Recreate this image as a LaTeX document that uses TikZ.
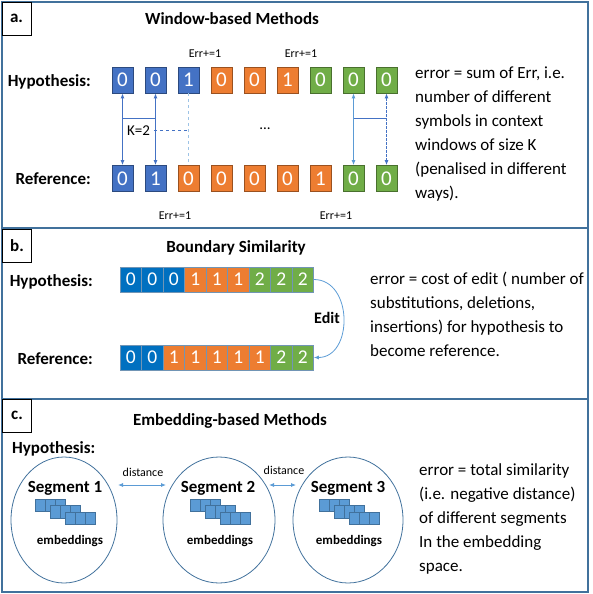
\documentclass[tikz,border=0pt]{standalone}
\usepackage{fontspec}
\setmainfont{Carlito}
\usetikzlibrary{arrows.meta,shapes.geometric,calc}
\definecolor{frameblue}{HTML}{41719C}
\definecolor{cblue}{HTML}{4472C4}
\definecolor{cblueb}{HTML}{0070C0}
\definecolor{corange}{HTML}{ED7D31}
\definecolor{cgreen}{HTML}{70AD47}
\definecolor{lblue}{HTML}{5B9BD5}
\definecolor{dashblue}{HTML}{9DC3E6}
\begin{document}
\begin{tikzpicture}[x=1pt,y=-1pt,
  panel/.style={draw=frameblue, line width=1.3pt},
  tag/.style={draw=black, fill=white, line width=0.8pt, minimum width=29pt, minimum height=33pt, inner sep=0pt, font=\fontsize{17}{20}\selectfont\bfseries},
  title/.style={font=\fontsize{17}{20}\selectfont\bfseries, inner sep=0pt, anchor=base},
  rowlabel/.style={font=\fontsize{17}{20}\selectfont\bfseries, inner sep=0pt, anchor=base east},
  cell/.style={draw=#1!65!black, fill=#1, text=white, line width=0.7pt, minimum width=21pt, minimum height=26pt, inner sep=0pt, font=\fontsize{21}{23}\selectfont},
  bcell/.style={draw=frameblue!75, fill=#1, text=white, line width=0.6pt, minimum width=21.5pt, minimum height=25pt, inner sep=0pt, font=\fontsize{19.5}{21}\selectfont},
  errlbl/.style={font=\fontsize{12}{14}\selectfont, inner sep=0pt, anchor=base},
  dart/.style={{Latex[length=5pt,width=4pt]}-{Latex[length=5pt,width=4pt]}, draw=cblue, line width=1pt},
  desc/.style={font=\fontsize{17}{24}\selectfont, align=left, inner sep=0pt, anchor=west},
  seg/.style={ellipse, draw=frameblue, line width=0.8pt, minimum width=#1, minimum height=126pt, inner sep=0pt},
  segtxt/.style={font=\fontsize{17}{20}\selectfont\bfseries, inner sep=0pt, anchor=base},
  embtxt/.style={font=\fontsize{13}{15}\selectfont\bfseries, inner sep=0pt, anchor=base},
  sq/.style={fill=lblue, draw=frameblue, line width=0.6pt},
  distlbl/.style={font=\fontsize{12}{14}\selectfont, inner sep=0pt, anchor=base},
  larr/.style={{Latex[length=5pt,width=4pt]}-{Latex[length=5pt,width=4pt]}, draw=lblue, line width=0.8pt}
]
\useasboundingbox (0,0) rectangle (592,594);
% panel frames
\draw[panel] (2,2) rectangle (588,228);
\draw[panel] (2,228) rectangle (588,399);
\draw[panel] (2,399) rectangle (588,592);
\node[tag] (tagA) at (16.5,18.5) {a.};
\node[tag] (tagB) at (17,245.5) {b.};
\node[tag] (tagC) at (17,415.5) {c.};
\node[title] (titA) at (232,25) {Window-based Methods};
\node[title] (titB) at (236,252) {Boundary Similarity};
\node[title] (titC) at (230,425) {Embedding-based Methods};

% ---------- panel a ----------
\node[rowlabel] (hypA) at (91,86) {Hypothesis:};
\node[rowlabel] (refA) at (91,184) {Reference:};
\foreach \i/\c/\d in {1/cblue/0,2/cblue/0,3/cblue/1,4/corange/0,5/corange/0,6/corange/1,7/cgreen/0,8/cgreen/0,9/cgreen/0}
  \node[cell=\c] (ah\i) at ({122.5+33*(\i-1)},80) {\d};
\foreach \i/\c/\d in {1/cblue/0,2/cblue/1,3/corange/0,4/corange/0,5/corange/0,6/corange/0,7/corange/1,8/cgreen/0,9/cgreen/0}
  \node[cell=\c] (ar\i) at ({122.5+33*(\i-1)},178.5) {\d};
\draw[dart] (ah1.south) -- (ar1.north);
\draw[dart, line width=1.4pt] (ah2.south) -- (ar2.north);
\path (ah1.south) ++(0,25) coordinate (k1);
\draw[cblue, line width=1pt] (k1) -- (k1 -| ah2);
\node[font=\fontsize{15}{18}\selectfont, inner sep=1pt, anchor=base] (K) at (138.5,135) {K=2};
\draw[cblue, dashed, line width=0.7pt] ([xshift=3pt]K.east) -- (K.east -| ah3);
\draw[dashblue, dashed, line width=0.8pt] (ah3.south) -- (ar3.north);
\node[font=\fontsize{15}{18}\selectfont, inner sep=0pt] (dots) at (265,129) {...};
\draw[dart, draw=lblue] (ah8.south) -- (ar8.north);
\draw[dart, dash pattern=on 3pt off 1pt] (ah9.south) -- (ar9.north);
\path (ah8.south) ++(0,25) coordinate (k2);
\draw[cblue, line width=1pt] (k2) -- (k2 -| ah9);
\node[errlbl] (e1) at (205,57) {Err+=1};
\node[errlbl] (e2) at (301,57) {Err+=1};
\node[errlbl] (e3) at (175,219) {Err+=1};
\node[errlbl] (e4) at (336,219) {Err+=1};
\node[desc] (descA) at (415,134) {error = sum of Err, i.e.\\number of different\\symbols in context\\windows of size K\\(penalised in different\\ways).};

% ---------- panel b ----------
\node[rowlabel] (hypB) at (93,286) {Hypothesis:};
\node[rowlabel] (refB) at (93,364) {Reference:};
\foreach \i/\c/\d in {1/cblueb/0,2/cblueb/0,3/cblueb/0,4/corange/1,5/corange/1,6/corange/1,7/cgreen/2,8/cgreen/2,9/cgreen/2}
  \node[bcell=\c] (bh\i) at ({120+21.5*(\i-0.5)},279.5) {\d};
\foreach \i/\c/\d in {1/cblueb/0,2/cblueb/0,3/corange/1,4/corange/1,5/corange/1,6/corange/1,7/corange/1,8/cgreen/2,9/cgreen/2}
  \node[bcell=\c] (br\i) at ({120+21.5*(\i-0.5)},357.5) {\d};
\draw[lblue, line width=0.8pt, -{Latex[length=5pt,width=4pt]}] (bh9.east) to[out=0,in=0,looseness=1.3] (br9.east);
\node[font=\fontsize{16}{19}\selectfont\bfseries, inner sep=0pt, anchor=base] (edit) at (327,323) {Edit};
\node[desc] (descB) at (370,314) {error = cost of edit ( number of\\substitutions, deletions,\\insertions) for hypothesis to\\become reference.};

% ---------- panel c ----------
\node[font=\fontsize{17}{20}\selectfont\bfseries, inner sep=0pt, anchor=base west] (hypC) at (12,453) {Hypothesis:};
\node[seg=106pt] (s1) at (64,520) {};
\node[seg=112pt] (s2) at (219,520) {};
\node[seg=110pt] (s3) at (348,520) {};
\foreach \cx in {64,219,348}
  \foreach \r in {0,1,2}
    \foreach \k in {0,1,2}
      \draw[sq] ({\cx-29+15*\r+10*\k},{499+6.5*\r}) rectangle ++(10,12.5);
\node[segtxt] (t1) at (65,492) {Segment 1};
\node[segtxt] (t2) at (218,492) {Segment 2};
\node[segtxt] (t3) at (348,492) {Segment 3};
\node[embtxt] (m1) at (70,544) {embeddings};
\node[embtxt] (m2) at (220,544) {embeddings};
\node[embtxt] (m3) at (349,544) {embeddings};
\path (s1.center) ++(54,-35) coordinate (d1a);
\path (s2.center) ++(-53,-35) coordinate (d1b);
\path (s2.center) ++(50,-35) coordinate (d2a);
\path (s3.center) ++(-52,-35) coordinate (d2b);
\draw[larr] (d1a) -- (d1b);
\draw[larr] (d2a) -- (d2b);
\node[distlbl] (dl1) at (143,476) {distance};
\node[distlbl] (dl2) at (284,474) {distance};
\node[desc] (descC) at (419,518.5) {error = total similarity\\(i.e. negative distance)\\of different segments\\In the embedding\\space.};
\end{tikzpicture}
\end{document}
